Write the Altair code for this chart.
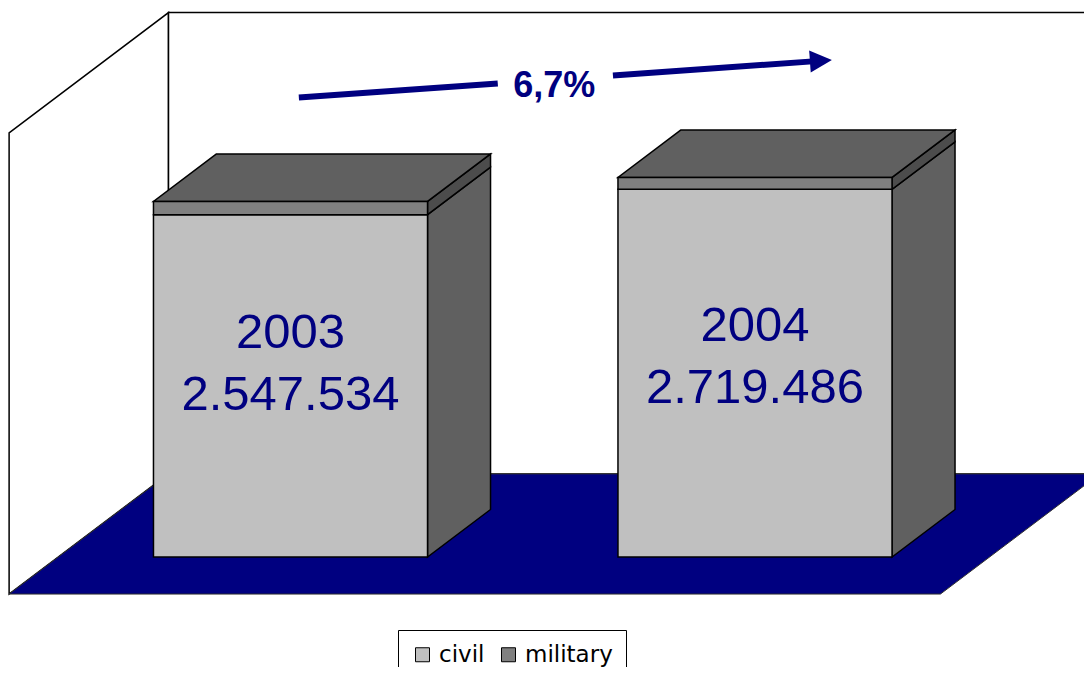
import math
import altair as alt
import pandas as pd

# ---------------- data ----------------
years = ["2003", "2004"]
totals = [2547534, 2719486]
total_labels = ["2.547.534", "2.719.486"]
military = [95000, 85000]
civil = [t - m for t, m in zip(totals, military)]
series = ["civil", "military"]
series_colors = ["#C0C0C0", "#808080"]
growth_label = "6,7%"

# ---------------- geometry of the oblique 3D view ----------------
W, H = 1076, 659
PX_X = 464.5                    # pixels per category step
X0 = -282.5 / PX_X
X1 = X0 + W / PX_X
V_PER_PX = 7165                 # value units per pixel
Y_TOP = 549 * V_PER_PX
Y_BOT = -(H - 549) * V_PER_PX
HW = 0.295                      # half bar width (category units)
DX = 63 / PX_X                  # depth offset of one bar depth, x
DY = 47.5 * V_PER_PX            # depth offset of one bar depth, y
FLOOR_FRONT, FLOOR_BACK = -0.78, 1.75
WALL_TOP = 3305000
LABEL_ANCHOR = 0.3              # label anchor as share of the civil segment

xs = alt.Scale(domain=[X0, X1], nice=False, zero=False)
ys = alt.Scale(domain=[Y_BOT, Y_TOP], nice=False, zero=False)


def X(f="x"):
    return alt.X(f"{f}:Q", scale=xs, axis=None)


def Y(f="y"):
    return alt.Y(f"{f}:Q", scale=ys, axis=None, stack=None)


# walls
left_wall = pd.DataFrame([
    {"x": -0.5 + d * DX, "y": WALL_TOP + d * DY, "y2": d * DY}
    for d in (FLOOR_FRONT, FLOOR_BACK)
])
back_wall = pd.DataFrame([{
    "x": -0.5 + FLOOR_BACK * DX, "x2": 1.5 + FLOOR_BACK * DX,
    "y": FLOOR_BACK * DY, "y2": WALL_TOP + FLOOR_BACK * DY,
}])
floor = pd.DataFrame([
    {"y": d * DY, "x": -0.5 + d * DX, "x2": 1.505 + d * DX}
    for d in (FLOOR_FRONT, FLOOR_BACK)
])

side_civil, side_mil, tops, fronts, labels = [], [], [], [], []
for i, yr in enumerate(years):
    for d in (0, 1):
        side_civil.append({"bar": yr, "x": i + HW + d * DX,
                           "y": civil[i] + d * DY, "y2": d * DY})
        side_mil.append({"bar": yr, "x": i + HW + d * DX,
                         "y": totals[i] + d * DY, "y2": civil[i] + d * DY})
        tops.append({"bar": yr, "y": totals[i] + d * DY,
                     "x": i - HW + d * DX, "x2": i + HW + d * DX})
    fronts.append({"bar": yr, "series": "civil", "x": i - HW, "x2": i + HW,
                   "y": 0, "y2": civil[i]})
    fronts.append({"bar": yr, "series": "military", "x": i - HW, "x2": i + HW,
                   "y": civil[i], "y2": totals[i]})
    labels.append({"x": i, "y": civil[i] * LABEL_ANCHOR, "year": yr,
                   "total": total_labels[i]})

side_civil = pd.DataFrame(side_civil)
side_mil = pd.DataFrame(side_mil)
tops = pd.DataFrame(tops)
fronts = pd.DataFrame(fronts)
labels = pd.DataFrame(labels)

# growth arrow annotation
A_START = (0.018, 3292000)
A_END = (1.166, 3561000)


def along(t):
    return (A_START[0] + t * (A_END[0] - A_START[0]),
            A_START[1] + t * (A_END[1] - A_START[1]))


segs = []
for k, (t0, t1) in enumerate([(0.0, 0.373), (0.589, 0.97)]):
    for t in (t0, t1):
        px, py = along(t)
        segs.append({"seg": k, "x": px, "y": py})
segs = pd.DataFrame(segs)
hx, hy = along(0.979)
dxp = (A_END[0] - A_START[0]) * PX_X
dyp = (A_END[1] - A_START[1]) / V_PER_PX
head_angle = (360 - math.degrees(math.atan2(dyp, dxp))) % 360
head = pd.DataFrame([{"x": hx, "y": hy}])
pct = pd.DataFrame([{"x": 0.568, "y": 3296000, "t": growth_label}])

NAVY = "#000080"

l_left = alt.Chart(left_wall).mark_area(
    orient="vertical", fill="white", stroke="black", strokeWidth=1.5
).encode(x=X(), y=Y(), y2="y2:Q")

l_back = alt.Chart(back_wall).mark_rect(
    fill="white", stroke="black", strokeWidth=1.5
).encode(x=X(), x2="x2:Q", y=Y(), y2="y2:Q")

l_floor = alt.Chart(floor).mark_area(
    orient="horizontal", fill=NAVY, stroke="#303030", strokeWidth=1
).encode(y=Y(), x=X(), x2="x2:Q")

l_side_c = alt.Chart(side_civil).mark_area(
    orient="vertical", fill="#606060", stroke="black", strokeWidth=1.5
).encode(x=X(), y=Y(), y2="y2:Q", detail="bar:N")

l_side_m = alt.Chart(side_mil).mark_area(
    orient="vertical", fill="#4C4C4C", stroke="black", strokeWidth=1.5
).encode(x=X(), y=Y(), y2="y2:Q", detail="bar:N")

l_top = alt.Chart(tops).mark_area(
    orient="horizontal", fill="#606060", stroke="black", strokeWidth=1.5
).encode(y=Y(), x=X(), x2="x2:Q", detail="bar:N")

l_front = alt.Chart(fronts).mark_rect(
    stroke="black", strokeWidth=1.5
).encode(
    x=X(), x2="x2:Q", y=Y(), y2="y2:Q",
    color=alt.Color(
        "series:N",
        scale=alt.Scale(domain=series, range=series_colors),
        legend=alt.Legend(
            title=None, orient="none", legendX=390, legendY=622,
            direction="horizontal", symbolType="square", symbolSize=196,
            symbolStrokeColor="black", symbolStrokeWidth=1,
            labelFontSize=23, labelFont="DejaVu Sans", labelColor="black",
            padding=13, strokeColor="black", fillColor="white",
            columnPadding=12, labelOffset=5,
        ),
    ),
)

l_year = alt.Chart(labels).mark_text(
    font="Liberation Sans", fontSize=49, color=NAVY, align="center",
    baseline="alphabetic", dy=-106
).encode(x=X(), y=Y(), text="year:N")

l_total = alt.Chart(labels).mark_text(
    font="Liberation Sans", fontSize=49, color=NAVY, align="center",
    baseline="alphabetic", dy=-44
).encode(x=X(), y=Y(), text="total:N")

l_arrow = alt.Chart(segs).mark_line(
    color=NAVY, strokeWidth=6, strokeCap="butt"
).encode(x=X(), y=Y(), detail="seg:N")

l_head = alt.Chart(head).mark_point(
    shape="M -1 -1 L 1 0 L -1 1 Z", size=484, filled=True, fill=NAVY,
    strokeWidth=0, opacity=1, angle=head_angle
).encode(x=X(), y=Y())

l_pct = alt.Chart(pct).mark_text(
    font="Liberation Sans", fontSize=36, fontWeight="bold", color=NAVY,
    align="center", baseline="alphabetic"
).encode(x=X(), y=Y(), text="t:N")

chart = alt.layer(
    l_left, l_back, l_floor, l_side_c, l_side_m, l_top, l_front,
    l_year, l_total, l_arrow, l_head, l_pct
).properties(
    width=W, height=H, autosize=alt.AutoSizeParams(type="none"), padding=0,
    background="white"
).configure_view(stroke=None)

chart.save("out.html", embed_options={"renderer": "svg", "actions": False})
